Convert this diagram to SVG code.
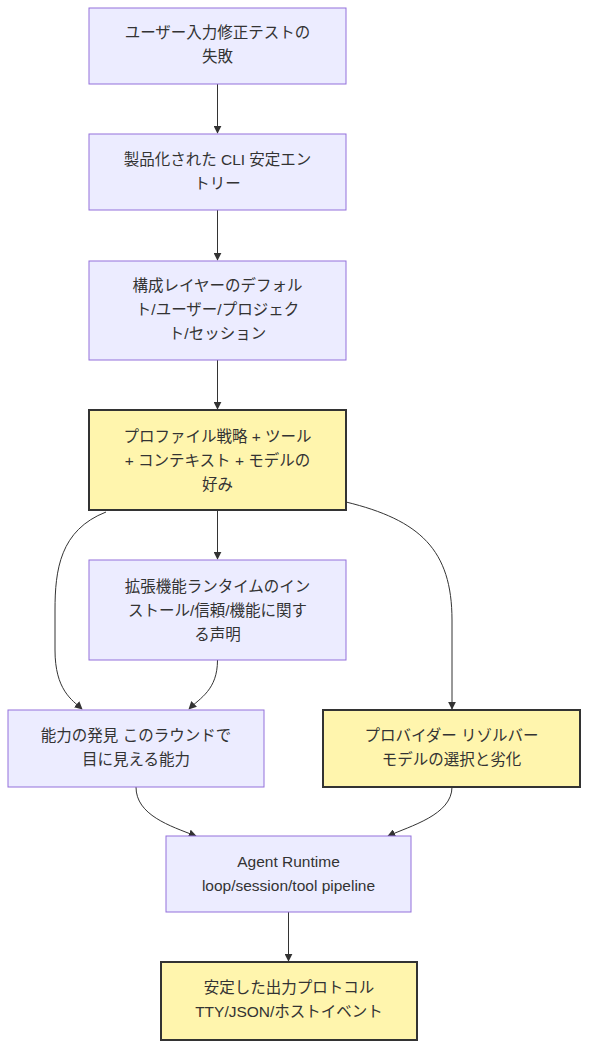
<svg xmlns="http://www.w3.org/2000/svg" width="596" height="1062" viewBox="0 0 596 1062">
<style>
.n rect{fill:#ECECFF;stroke:#9370DB;stroke-width:1}
.y rect{fill:#FFF5AD;stroke:#333333;stroke-width:2}
text{font-family:"Liberation Sans","Noto Sans CJK JP",sans-serif;font-size:15.5px;fill:#333333;text-anchor:middle}
.e path{fill:none;stroke:#333333;stroke-width:1}
</style>
<defs>
<marker id="ah" viewBox="0 0 10 10" refX="9" refY="5" markerWidth="8" markerHeight="8" orient="auto-start-reverse" markerUnits="userSpaceOnUse">
<path d="M0,0 L10,5 L0,10 z" fill="#333333"/>
</marker>
</defs>
<rect width="596" height="1062" fill="#ffffff"/>
<g class="e">
<path d="M217.5,84 L217.5,133" marker-end="url(#ah)"/>
<path d="M217.5,210 L217.5,260" marker-end="url(#ah)"/>
<path d="M217.5,360 L217.5,409" marker-end="url(#ah)"/>
<path d="M217.5,510 L217.5,559" marker-end="url(#ah)"/>
<path d="M106,512 C60,530 55,570 55,610 L55,650 C55,690 72,700 82,709" marker-end="url(#ah)"/>
<path d="M217.5,660 C217.5,690 200,698 189,709" marker-end="url(#ah)"/>
<path d="M346,502 C420,520 452,550 452,620 L452,709" marker-end="url(#ah)"/>
<path d="M136,787 C136,815 170,826 196,836" marker-end="url(#ah)"/>
<path d="M452,787 C452,815 410,826 388,836" marker-end="url(#ah)"/>
<path d="M288.5,912 L288.5,961" marker-end="url(#ah)"/>
</g>
<g id="n1" class="n"><rect x="89" y="8" width="257" height="76"/><text x="217.5" y="38">ユーザー入力修正テストの</text><text x="217.5" y="62">失敗</text></g>
<g id="n2" class="n"><rect x="89" y="134" width="257" height="76"/><text x="217.5" y="165">製品化された CLI 安定エン</text><text x="217.5" y="189">トリー</text></g>
<g id="n3" class="n"><rect x="89" y="261" width="257" height="99"/><text x="217.5" y="291">構成レイヤーのデフォル</text><text x="217.5" y="315">ト/ユーザー/プロジェク</text><text x="217.5" y="339">ト/セッション</text></g>
<g id="n4" class="y"><rect x="89" y="410" width="257" height="100"/><text x="217.5" y="442">プロファイル戦略 + ツール</text><text x="217.5" y="466">+ コンテキスト + モデルの</text><text x="217.5" y="490">好み</text></g>
<g id="n5" class="n"><rect x="89" y="560" width="257" height="100"/><text x="217.5" y="592">拡張機能ランタイムのイン</text><text x="217.5" y="616">ストール/信頼/機能に関す</text><text x="217.5" y="640">る声明</text></g>
<g id="n6" class="n"><rect x="8" y="710" width="256" height="77"/><text x="136" y="741">能力の発見 このラウンドで</text><text x="136" y="765">目に見える能力</text></g>
<g id="n7" class="y"><rect x="323" y="710" width="257" height="77"/><text x="451.5" y="741">プロバイダー リゾルバー</text><text x="451.5" y="765">モデルの選択と劣化</text></g>
<g id="n8" class="n"><rect x="166" y="836" width="245" height="76"/><text x="288.5" y="867">Agent Runtime</text><text x="288.5" y="891">loop/session/tool pipeline</text></g>
<g id="n9" class="y"><rect x="161" y="962" width="256" height="78"/><text x="289" y="993">安定した出力プロトコル</text><text x="289" y="1017">TTY/JSON/ホストイベント</text></g>
</svg>
